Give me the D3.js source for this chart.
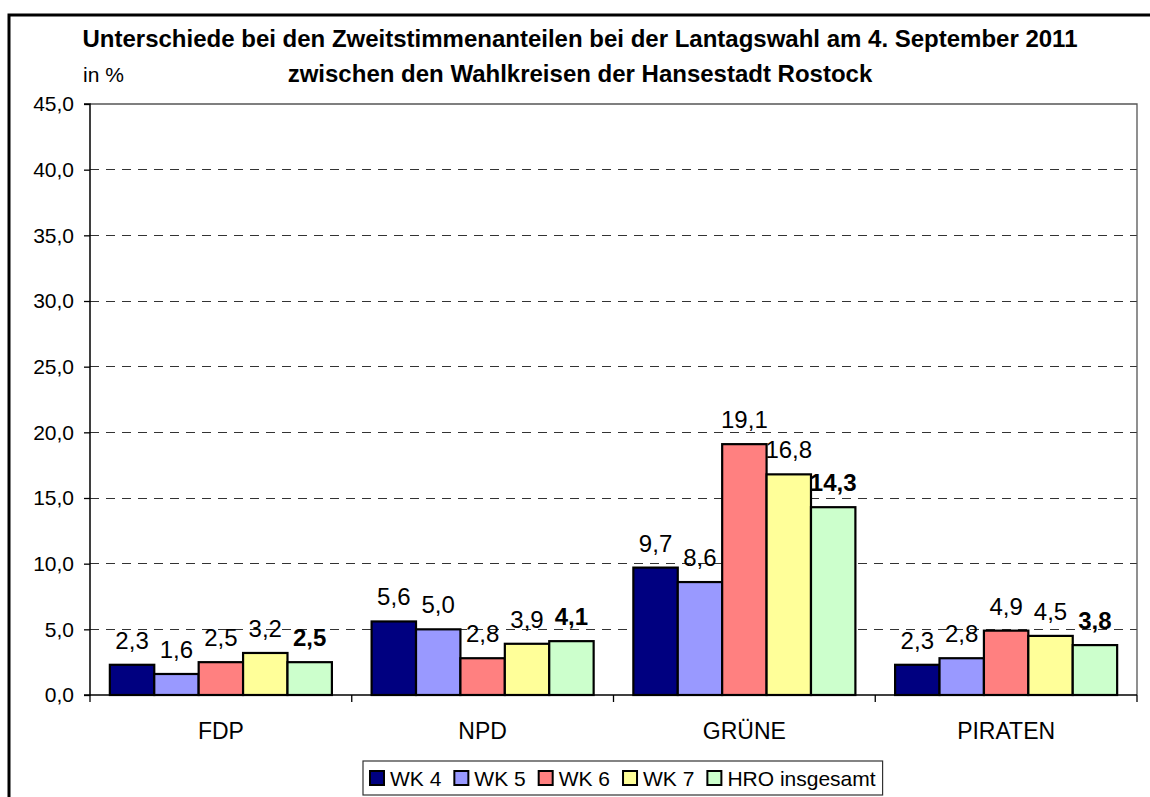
<!DOCTYPE html>
<html>
<head>
<meta charset="utf-8">
<script src="https://cdn.jsdelivr.net/npm/d3@7/dist/d3.min.js"></script>
<style>
  html, body { margin: 0; padding: 0; background: #fff; }
  svg { display: block; }
  text { font-family: "Liberation Sans", Arial, sans-serif; fill: #000; }
</style>
</head>
<body>
<svg id="chart" width="1150" height="797"></svg>
<script>
// ---- data ----
const categories = ["FDP", "NPD", "GRÜNE", "PIRATEN"];
const seriesNames = ["WK 4", "WK 5", "WK 6", "WK 7", "HRO insgesamt"];
const wk4 = [2.3, 5.6, 9.7, 2.3];
const wk5 = [1.6, 5.0, 8.6, 2.8];
const wk6 = [2.5, 2.8, 19.1, 4.9];
const wk7 = [3.2, 3.9, 16.8, 4.5];
const hro = [2.5, 4.1, 14.3, 3.8];
const yTicks = [0, 5, 10, 15, 20, 25, 30, 35, 40, 45];
const titleLines = ["Unterschiede bei den Zweitstimmenanteilen bei der Lantagswahl am 4. September 2011",
                    "zwischen den Wahlkreisen der Hansestadt Rostock"];
const unitLabel = "in %";

const seriesValues = [wk4, wk5, wk6, wk7, hro];
const colors = ["#000080", "#9999FF", "#FF8080", "#FFFF99", "#CCFFCC"];

const svg = d3.select("#chart");
const fmt = v => d3.format(".1f")(v).replace(".", ",");

// outer frame
svg.append("rect").attr("x", 9).attr("y", 15).attr("width", 1150).attr("height", 800)
  .attr("fill", "none").attr("stroke", "#000").attr("stroke-width", 3);

const L = 90, R = 1137, T = 104, B = 695;
const y = d3.scaleLinear().domain([0, 45]).range([B, T]);
const x0 = d3.scaleBand().domain(categories).range([L, R]).paddingInner(0).paddingOuter(0);
const x1 = d3.scaleBand().domain(seriesNames).range([0, x0.bandwidth()]).paddingInner(0).paddingOuter(0.447);

// gridlines
svg.append("g").selectAll("line").data(yTicks.filter(t => t > 0 && t < 45)).join("line")
  .attr("x1", L).attr("x2", R).attr("y1", d => y(d)).attr("y2", d => y(d))
  .attr("stroke", "#333").attr("stroke-width", 1).attr("stroke-dasharray", "9,7")
  .attr("shape-rendering", "crispEdges");

// plot border top/right
svg.append("path").attr("d", `M${L},${T}H${R}V${B}`).attr("fill", "none")
  .attr("stroke", "#555").attr("stroke-width", 1.3);

// bars
const groups = svg.append("g").selectAll("g").data(categories).join("g")
  .attr("transform", d => `translate(${x0(d)},0)`);
groups.each(function(cat, ci) {
  const g = d3.select(this);
  seriesNames.forEach((s, si) => {
    const v = seriesValues[si][ci];
    g.append("rect").attr("x", x1(s)).attr("y", y(v)).attr("width", x1.bandwidth())
      .attr("height", y(0) - y(v)).attr("fill", colors[si])
      .attr("stroke", "#000").attr("stroke-width", 2.2);
  });
  seriesNames.forEach((s, si) => {
    const v = seriesValues[si][ci];
    g.append("text").attr("x", x1(s) + x1.bandwidth() / 2).attr("y", y(v) - 16)
      .attr("text-anchor", "middle").style("font-size", "24px")
      .style("font-weight", si === 4 ? "bold" : "normal").text(fmt(v));
  });
});

// y axis
const yAxis = d3.axisLeft(y).tickValues(yTicks).tickFormat(fmt).tickSize(6).tickPadding(10);
const ya = svg.append("g").attr("transform", `translate(${L},0)`).call(yAxis);
ya.select(".domain").attr("stroke", "#000").attr("stroke-width", 1.5).attr("d", `M-6,${T}H0V${B}H-6`);
ya.selectAll(".tick line").attr("stroke", "#000").attr("stroke-width", 1.3);
ya.selectAll(".tick text").style("font-size", "21px").style("font-family", '"Liberation Sans", Arial, sans-serif').attr("fill", "#000");

// x axis
const xa = svg.append("g").attr("transform", `translate(0,${B})`);
xa.append("line").attr("x1", L).attr("x2", R).attr("stroke", "#000").attr("stroke-width", 1.5);
xa.selectAll("line.tk").data(d3.range(categories.length + 1)).join("line").attr("class", "tk")
  .attr("x1", i => L + i * x0.step()).attr("x2", i => L + i * x0.step())
  .attr("y1", 0).attr("y2", 7).attr("stroke", "#000").attr("stroke-width", 1.3);
xa.selectAll("text").data(categories).join("text")
  .attr("x", d => x0(d) + x0.bandwidth() / 2).attr("y", 44)
  .attr("text-anchor", "middle").style("font-size", "23px").text(d => d);

// title
svg.selectAll("text.title").data(titleLines).join("text").attr("class", "title")
  .attr("x", 580).attr("y", (d, i) => 47 + i * 35).attr("text-anchor", "middle")
  .style("font-size", "24px").style("font-weight", "bold").text(d => d);
svg.append("text").attr("x", 83).attr("y", 82).style("font-size", "21px").text(unitLabel);

// legend
const lg = svg.append("g");
const box = lg.append("rect").attr("y", 761).attr("height", 34).attr("fill", "#fff")
  .attr("stroke", "#333").attr("stroke-width", 1.2);
let cx = 370;
seriesNames.forEach((s, i) => {
  lg.append("rect").attr("x", cx).attr("y", 771).attr("width", 14).attr("height", 14)
    .attr("fill", colors[i]).attr("stroke", "#000").attr("stroke-width", 2);
  const t = lg.append("text").attr("x", cx + 20).attr("y", 786).style("font-size", "21px").text(s);
  cx += 20 + t.node().getComputedTextLength() + 13;
});
box.attr("x", 363).attr("width", cx - 13 + 7 - 363);
</script>
</body>
</html>
